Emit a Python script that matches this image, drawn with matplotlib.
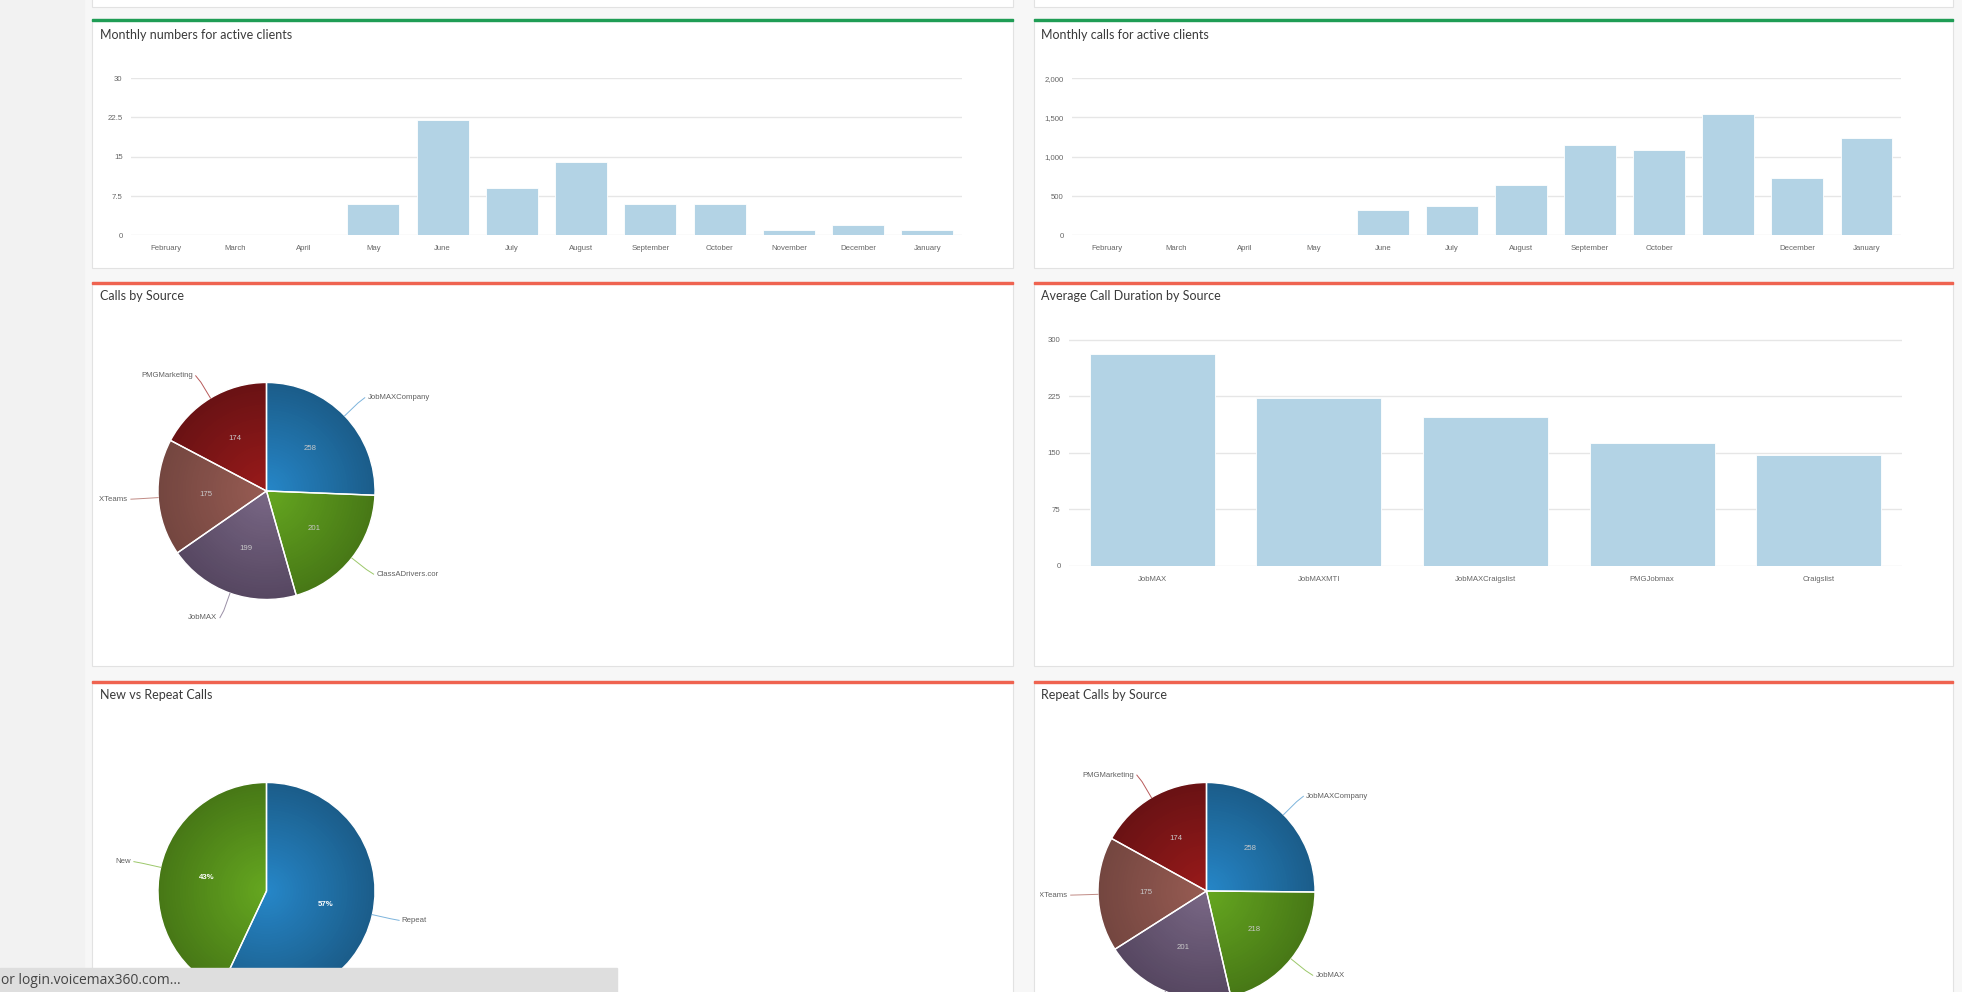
import numpy as np
import matplotlib.pyplot as plt
from matplotlib.patches import Rectangle
from matplotlib.colors import to_rgb
from matplotlib.ticker import FuncFormatter

W, H = 1962, 992

months = ["February", "March", "April", "May", "June", "July", "August",
          "September", "October", "November", "December", "January"]
active_clients = [0, 0, 0, 6, 22, 9, 14, 6, 6, 1, 2, 1]
active_calls = [0, 0, 0, 17, 323, 374, 645, 1151, 1087, 1546, 726, 1244]
# the November label is not drawn on the calls chart in the source
calls_month_labels = [m if m != "November" else "" for m in months]

duration_sources = ["JobMAX", "JobMAXMTI", "JobMAXCraigslist", "PMGJobmax", "Craigslist"]
avg_duration = [281, 223, 198, 163, 147]

call_sources = ["JobMAXCompany", "ClassADrivers.cor", "JobMAX", "JobMAXTeams", "PMGMarketing"]
calls_by_source = [258, 201, 199, 175, 174]

new_repeat_names = ["Repeat", "New"]
new_repeat_pct = [57, 43]

repeat_sources = ["JobMAXCompany", "JobMAX", "ClassADrivers.com", "JobMAXTeams", "PMGMarketing"]
repeat_by_source = [258, 218, 201, 175, 174]

# slice colours: (edge, centre) for the radial shading
EDGE = ["#1b5d8a", "#477816", "#564761", "#744640", "#6a1214"]
CENTER = ["#2687c9", "#66a820", "#7a6886", "#985c53", "#9a1a1a"]
CONNECT = ["#7db4dc", "#9cc86a", "#9a8fa6", "#c08a84", "#b85a5a"]

BAR = "#b3d3e5"
GRID = "#e6e6e6"
TICK = "#666666"
TITLE = "#3a3a3a"
GREEN_TOP = "#1f9d55"
RED_TOP = "#ef6350"

plt.rcParams["font.family"] = ["Liberation Sans", "DejaVu Sans"]

fig = plt.figure(figsize=(W / 100, H / 100), dpi=100)


def px_rect(x0, y0, x1, y1):
    return [x0 / W, 1 - y1 / H, (x1 - x0) / W, (y1 - y0) / H]


# page background and panels
bg = fig.add_axes([0, 0, 1, 1])
bg.set_xlim(0, W)
bg.set_ylim(H, 0)
bg.axis("off")
bg.add_patch(Rectangle((0, 0), W, H, color="#f7f7f7", zorder=0))
bg.add_patch(Rectangle((0, 0), 84, H, color="#f2f2f2", zorder=0))

cols = [(92, 1013), (1034, 1953)]
rows = [(19, 268, GREEN_TOP), (282, 666, RED_TOP), (681, 1010, RED_TOP)]
for x0, x1 in cols:
    bg.add_patch(Rectangle((x0, -5), x1 - x0, 12, facecolor="white",
                           edgecolor="#e2e2e2", lw=0.8, zorder=1))
    for y0, y1, top in rows:
        bg.add_patch(Rectangle((x0, y0), x1 - x0, y1 - y0, facecolor="white",
                               edgecolor="#e2e2e2", lw=0.8, zorder=1))
        bg.add_patch(Rectangle((x0, y0), x1 - x0, 1.6, color=top, zorder=2))

titles = [
    (100, 35, "Monthly numbers for active clients"),
    (1041, 35, "Monthly calls for active clients"),
    (100, 296, "Calls by Source"),
    (1041, 296, "Average Call Duration by Source"),
    (100, 695, "New vs Repeat Calls"),
    (1041, 695, "Repeat Calls by Source"),
]
for x, y, t in titles:
    bg.text(x, y, t, fontsize=9, color=TITLE, family=["Lato", "DejaVu Sans"],
            ha="left", va="center", zorder=3)


def bar_panel(rect, cats, vals, labels, ymax, step, fmt):
    ax = fig.add_axes(rect)
    x = np.arange(len(cats))
    ax.bar(x, vals, width=0.75, color=BAR, edgecolor="white", linewidth=0.6, zorder=2)
    ax.set_xlim(-0.5, len(cats) - 0.5)
    ax.set_ylim(0, ymax * 1.004)
    ax.set_yticks(np.arange(0, ymax + step / 2, step))
    ax.yaxis.set_major_formatter(FuncFormatter(fmt))
    ax.set_xticks(x)
    ax.set_xticklabels(labels)
    ax.grid(axis="y", color=GRID, linewidth=1.0, zorder=0)
    ax.set_axisbelow(True)
    for s in ax.spines.values():
        s.set_visible(False)
    ax.tick_params(length=0, labelsize=5.6, labelcolor=TICK)
    ax.tick_params(axis="y", pad=6)
    ax.tick_params(axis="x", pad=7)
    ax.patch.set_alpha(0)
    return ax


bar_panel(px_rect(131, 77.6, 962, 235.3), months, active_clients, months,
          30, 7.5, lambda v, p: f"{v:g}")
bar_panel(px_rect(1072, 77.6, 1901, 235.3), months, active_calls, calls_month_labels,
          2000, 500, lambda v, p: f"{v:,.0f}")
bar_panel(px_rect(1069, 339, 1902, 566), duration_sources, avg_duration, duration_sources,
          300, 75, lambda v, p: f"{v:g}")


def mix(c1, c2, t):
    a, b = np.array(to_rgb(c1)), np.array(to_rgb(c2))
    return tuple(a * (1 - t) + b * t)


def pie_panel(box, cx, cy, R, names, vals, inner_txt, inner_kw, n_layers=40):
    x0, y0, x1, y1 = box
    ax = fig.add_axes(px_rect(x0, y0, x1, y1))
    k = len(vals)
    for i in range(n_layers, 0, -1):
        t = i / n_layers
        ax.pie(vals, radius=t, startangle=90, counterclock=False,
               colors=[mix(CENTER[j], EDGE[j], t) for j in range(k)],
               wedgeprops=dict(linewidth=0, antialiased=True))
    wedges, _ = ax.pie(vals, startangle=90, counterclock=False, colors=["none"] * k,
                       wedgeprops=dict(edgecolor="white", linewidth=1.0))
    ylo = (cy - y1) / R
    for j, w in enumerate(wedges):
        a = np.deg2rad((w.theta1 + w.theta2) / 2)
        u = np.array([np.cos(a), np.sin(a)])
        ax.text(*(0.56 * u), inner_txt[j], ha="center", va="center", **inner_kw)
        side = 1 if u[0] >= 0 else -1
        p1 = u * 1.17
        p2 = u * 1.24 + np.array([side * 0.012, 0])
        ax.plot([u[0], p1[0], p2[0]], [u[1], p1[1], p2[1]], color=CONNECT[j], lw=0.7)
        if p2[1] - 0.04 < ylo:
            continue  # label falls below the visible page
        ax.text(p2[0] + side * 0.025, p2[1], names[j], ha="left" if side > 0 else "right",
                va="center", fontsize=5.6, color="#606060", clip_on=True)
    ax.set_aspect("auto")
    ax.set_xlim((x0 - cx) / R, (x1 - cx) / R)
    ax.set_ylim(ylo, (cy - y0) / R)
    ax.axis("off")
    return ax


val_kw = dict(fontsize=5.6, color="#c9c9c9")
pct_kw = dict(fontsize=5.6, color="white", fontweight="bold")

pie_panel((99, 284, 1013, 666), 266.5, 491, 108.5, call_sources, calls_by_source,
          [str(v) for v in calls_by_source], val_kw)
pie_panel((99, 683, 1013, 992), 266.5, 891, 108.5, new_repeat_names, new_repeat_pct,
          [f"{v}%" for v in new_repeat_pct], pct_kw)
pie_panel((1040, 683, 1953, 992), 1206.5, 891, 108.5, repeat_sources, repeat_by_source,
          [str(v) for v in repeat_by_source], val_kw)

# browser status bar overlay
ov = fig.add_axes([0, 0, 1, 1])
ov.set_xlim(0, W)
ov.set_ylim(H, 0)
ov.axis("off")
ov.add_patch(Rectangle((0, 968), 617, 30, color="#dedede"))
ov.text(1, 981, "or login.voicemax360.com...", fontsize=10, color="#444444",
        family=["Open Sans", "DejaVu Sans"], ha="left", va="center")

fig.savefig("out.png", dpi=100)
